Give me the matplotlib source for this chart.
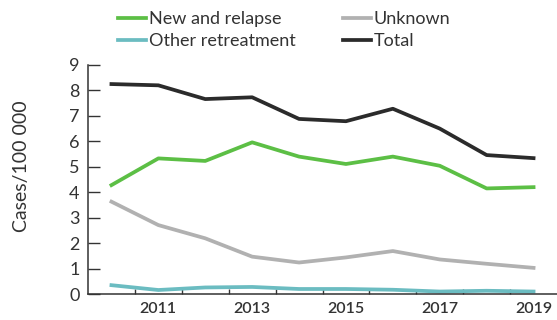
import matplotlib
matplotlib.use("Agg")
import matplotlib.pyplot as plt

years = [2010, 2011, 2012, 2013, 2014, 2015, 2016, 2017, 2018, 2019]
new_relapse = [4.28, 5.33, 5.23, 5.96, 5.40, 5.11, 5.40, 5.04, 4.15, 4.20]
other_retreatment = [0.35, 0.16, 0.26, 0.28, 0.20, 0.20, 0.17, 0.10, 0.13, 0.10]
unknown = [3.63, 2.71, 2.19, 1.47, 1.24, 1.44, 1.69, 1.36, 1.19, 1.03]
total = [8.25, 8.20, 7.66, 7.73, 6.88, 6.79, 7.28, 6.50, 5.46, 5.34]
xlabels = ["2011", "2013", "2015", "2017", "2019"]
yticks = [0, 1, 2, 3, 4, 5, 6, 7, 8, 9]

plt.rcParams['font.family'] = ['Lato', 'DejaVu Sans']
txt = '#333333'

fig = plt.figure(figsize=(5.57, 3.20), dpi=100)
ax = fig.add_axes([0.158, 0.081, 0.842, 0.716])

lw = 2.7
l1, = ax.plot(years, new_relapse, color='#5cbf45', lw=lw, label='New and relapse')
l2, = ax.plot(years, other_retreatment, color='#6bbcc1', lw=lw, label='Other retreatment')
l3, = ax.plot(years, unknown, color='#b1b1b1', lw=lw, label='Unknown')
l4, = ax.plot(years, total, color='#2b2b2b', lw=lw, label='Total')

ax.set_xlim(2009.5, 2019.5)
ax.set_ylim(0, 9)
ax.set_yticks(yticks)
ax.tick_params(axis='y', direction='in', length=8.5, width=1, colors=txt, labelsize=13, pad=6)
ax.set_xticks([y + 0.5 for y in years[:-1]], minor=True)
ax.set_xticks([int(s) for s in xlabels])
ax.set_xticklabels(xlabels, fontweight='semibold')
ax.tick_params(axis='x', which='major', length=0, colors=txt, labelsize=11.5, pad=6)
ax.tick_params(axis='x', which='minor', direction='in', length=3.5, width=1, colors=txt)
for s in ['top', 'right']:
    ax.spines[s].set_visible(False)
for s in ['left', 'bottom']:
    ax.spines[s].set_color(txt)
    ax.spines[s].set_linewidth(1.1)

ax.set_ylabel('Cases/100 000', color=txt, fontsize=14)
ax.yaxis.set_label_coords(-0.124, 0.56)

fig.legend(handles=[l1, l2, l3, l4], ncol=2, loc='upper left',
           bbox_to_anchor=(0.183, 1.015), frameon=False, fontsize=13,
           handlelength=1.55, handletextpad=0.15, columnspacing=2.6,
           labelspacing=0.3, labelcolor=txt)

fig.savefig('out.png', dpi=100)
